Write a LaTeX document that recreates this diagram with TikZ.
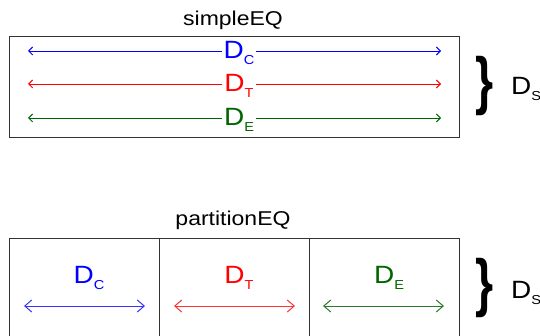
\documentclass[tikz,border=0pt]{standalone}
\usepackage{fontspec}
\setmainfont{Liberation Sans}
\usetikzlibrary{arrows.meta}
\definecolor{cblue}{RGB}{0,0,255}
\definecolor{cred}{RGB}{255,0,0}
\definecolor{cgreen}{RGB}{0,100,0}
\newcommand{\lbl}[1]{\scalebox{1.12}[1]{\fontsize{25}{25}\selectfont D\raisebox{-0.22em}{\fontsize{13}{13}\selectfont #1}}}
\newcommand{\bigbrace}{\scalebox{0.8}[1.1]{\bfseries\fontsize{58}{58}\selectfont\}}}
\begin{document}
\begin{tikzpicture}[x=1pt,y=1pt,
  boxline/.style={draw=black!80,line width=0.8pt},
  ttl/.style={font=\fontsize{20}{20}\selectfont,inner sep=0pt},
  dlab/.style={inner sep=2pt,fill=white},
  sarrow/.style={line width=0.9pt,{Straight Barb[length=4pt,width=8pt]}-{Straight Barb[length=4pt,width=8pt]}},
  barrow/.style={line width=1pt,{Straight Barb[length=7pt,width=12pt]}-{Straight Barb[length=7pt,width=12pt]}},
  brace/.style={inner sep=0pt},
  dslab/.style={inner sep=0pt}]
\useasboundingbox (0,0) rectangle (540,335);
\clip (0,0) rectangle (540,335);
% top
\node[ttl] (t1) at (233,315) {\scalebox{1.15}[1]{simpleEQ}};
\draw[boxline] (9,299) rectangle (459,198);
\coordinate (cl) at (28,284); \coordinate (cr) at (441,284);
\coordinate (tl) at (28,251); \coordinate (tr) at (441,251);
\coordinate (el) at (28,217); \coordinate (er) at (441,217);
\draw[sarrow,cblue] (cl) -- (cr);
\draw[sarrow,cred] (tl) -- (tr);
\draw[sarrow,cgreen] (el) -- (er);
\node[dlab,text=cblue] (dc1) at (239,282) {\lbl{C}};
\node[dlab,text=cred] (dt1) at (239,249) {\lbl{T}};
\node[dlab,text=cgreen] (de1) at (239,215) {\lbl{E}};
\node[brace] (b1) at (485,249) {\bigbrace};
\node[dslab] (ds1) at (526,246) {\lbl{S}};
% bottom
\node[ttl] (t2) at (233,115) {\scalebox{1.15}[1]{partitionEQ}};
\draw[boxline] (9,97) rectangle (459,-10);
\draw[boxline] (159,97) -- (159,-10);
\draw[boxline] (309,97) -- (309,-10);
\node[inner sep=0pt,text=cblue] (dc2) at (89,57) {\lbl{C}};
\node[inner sep=0pt,text=cred] (dt2) at (239,57) {\lbl{T}};
\node[inner sep=0pt,text=cgreen] (de2) at (389,57) {\lbl{E}};
\coordinate (pcl) at (24,29); \coordinate (pcr) at (145,29);
\coordinate (ptl) at (174,29); \coordinate (ptr) at (295,29);
\coordinate (pel) at (323,29); \coordinate (per) at (444,29);
\draw[barrow,cblue!80] (pcl) -- (pcr);
\draw[barrow,cred!80] (ptl) -- (ptr);
\draw[barrow,cgreen!85] (pel) -- (per);
\node[brace] (b2) at (485,47) {\bigbrace};
\node[dslab] (ds2) at (526,42) {\lbl{S}};
\end{tikzpicture}
\end{document}
